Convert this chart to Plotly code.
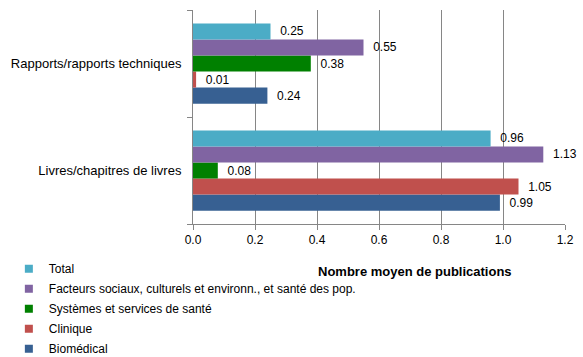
import plotly.graph_objects as go

categories = ["Livres/chapitres de livres", "Rapports/rapports techniques"]
series_names = ["Biomédical", "Clinique", "Systèmes et services de santé",
                "Facteurs sociaux, culturels et environn., et santé des pop.", "Total"]
biomedical = [0.99, 0.24]
clinique = [1.05, 0.01]
systemes = [0.08, 0.38]
facteurs = [1.13, 0.55]
total = [0.96, 0.25]
series_values = [biomedical, clinique, systemes, facteurs, total]
colors = ["#376092", "#C0504D", "#008000", "#8064A2", "#4BACC6"]
x_ticks = [0.0, 0.2, 0.4, 0.6, 0.8, 1.0, 1.2]
x_tick_labels = ["0.0", "0.2", "0.4", "0.6", "0.8", "1.0", "1.2"]

FONT = "Liberation Sans, Arial"

fig = go.Figure()
for name, vals, col in zip(series_names, series_values, colors):
    fig.add_trace(go.Bar(
        y=categories, x=vals, name=name, orientation="h",
        marker=dict(color=col, line=dict(width=0)),
        text=["\u00a0\u00a0" + f"{v:.2f}" for v in vals], textposition="outside",
        textfont=dict(family=FONT, size=12, color="#000000"),
        cliponaxis=False, showlegend=False, hoverinfo="skip",
    ))
# legend entries (square swatches like the reference), Total listed first
n = len(series_names)
for i, (name, col) in enumerate(zip(series_names, colors)):
    fig.add_trace(go.Scatter(
        x=[None], y=[None], mode="markers", name=name, legendgroup=f"g{i}",
        legendrank=n - i,
        marker=dict(symbol="square", size=8, color=col),
    ))

fig.update_layout(
    barmode="group", bargap=0.25, bargroupgap=0,
    width=583, height=357,
    margin=dict(l=193, r=18, t=10, b=133, autoexpand=False),
    plot_bgcolor="white", paper_bgcolor="white",
    font=dict(family=FONT, size=12, color="#000000"),
    legend=dict(
        traceorder="grouped",
        x=-0.495, y=-0.141, xanchor="left", yanchor="top",
        font=dict(size=12), tracegroupgap=1,
        bgcolor="rgba(0,0,0,0)", borderwidth=0,
    ),
    xaxis=dict(
        range=[0, 1.2], tickvals=x_ticks, ticktext=x_tick_labels,
        showgrid=True, gridcolor="#868686", gridwidth=1,
        showline=True, linecolor="#868686", linewidth=1,
        ticks="outside", ticklen=5, tickcolor="#868686",
        zeroline=False, tickfont=dict(size=12),
    ),
    yaxis=dict(
        type="category", showline=True, linecolor="#868686", linewidth=1,
        ticks="outside", tickson="boundaries", ticklen=5, tickcolor="#868686",
        showgrid=False, tickfont=dict(size=13), ticklabelstandoff=8,
    ),
    annotations=[dict(
        text="<b>Nombre moyen de publications</b>", xref="paper", yref="paper",
        x=0.597, y=-0.224, xanchor="center", yanchor="middle",
        showarrow=False, font=dict(size=13, color="#000000"),
    )],
)

fig.write_html("out.html", config={"displayModeBar": False},
               post_script="document.body.style.margin='0';")
